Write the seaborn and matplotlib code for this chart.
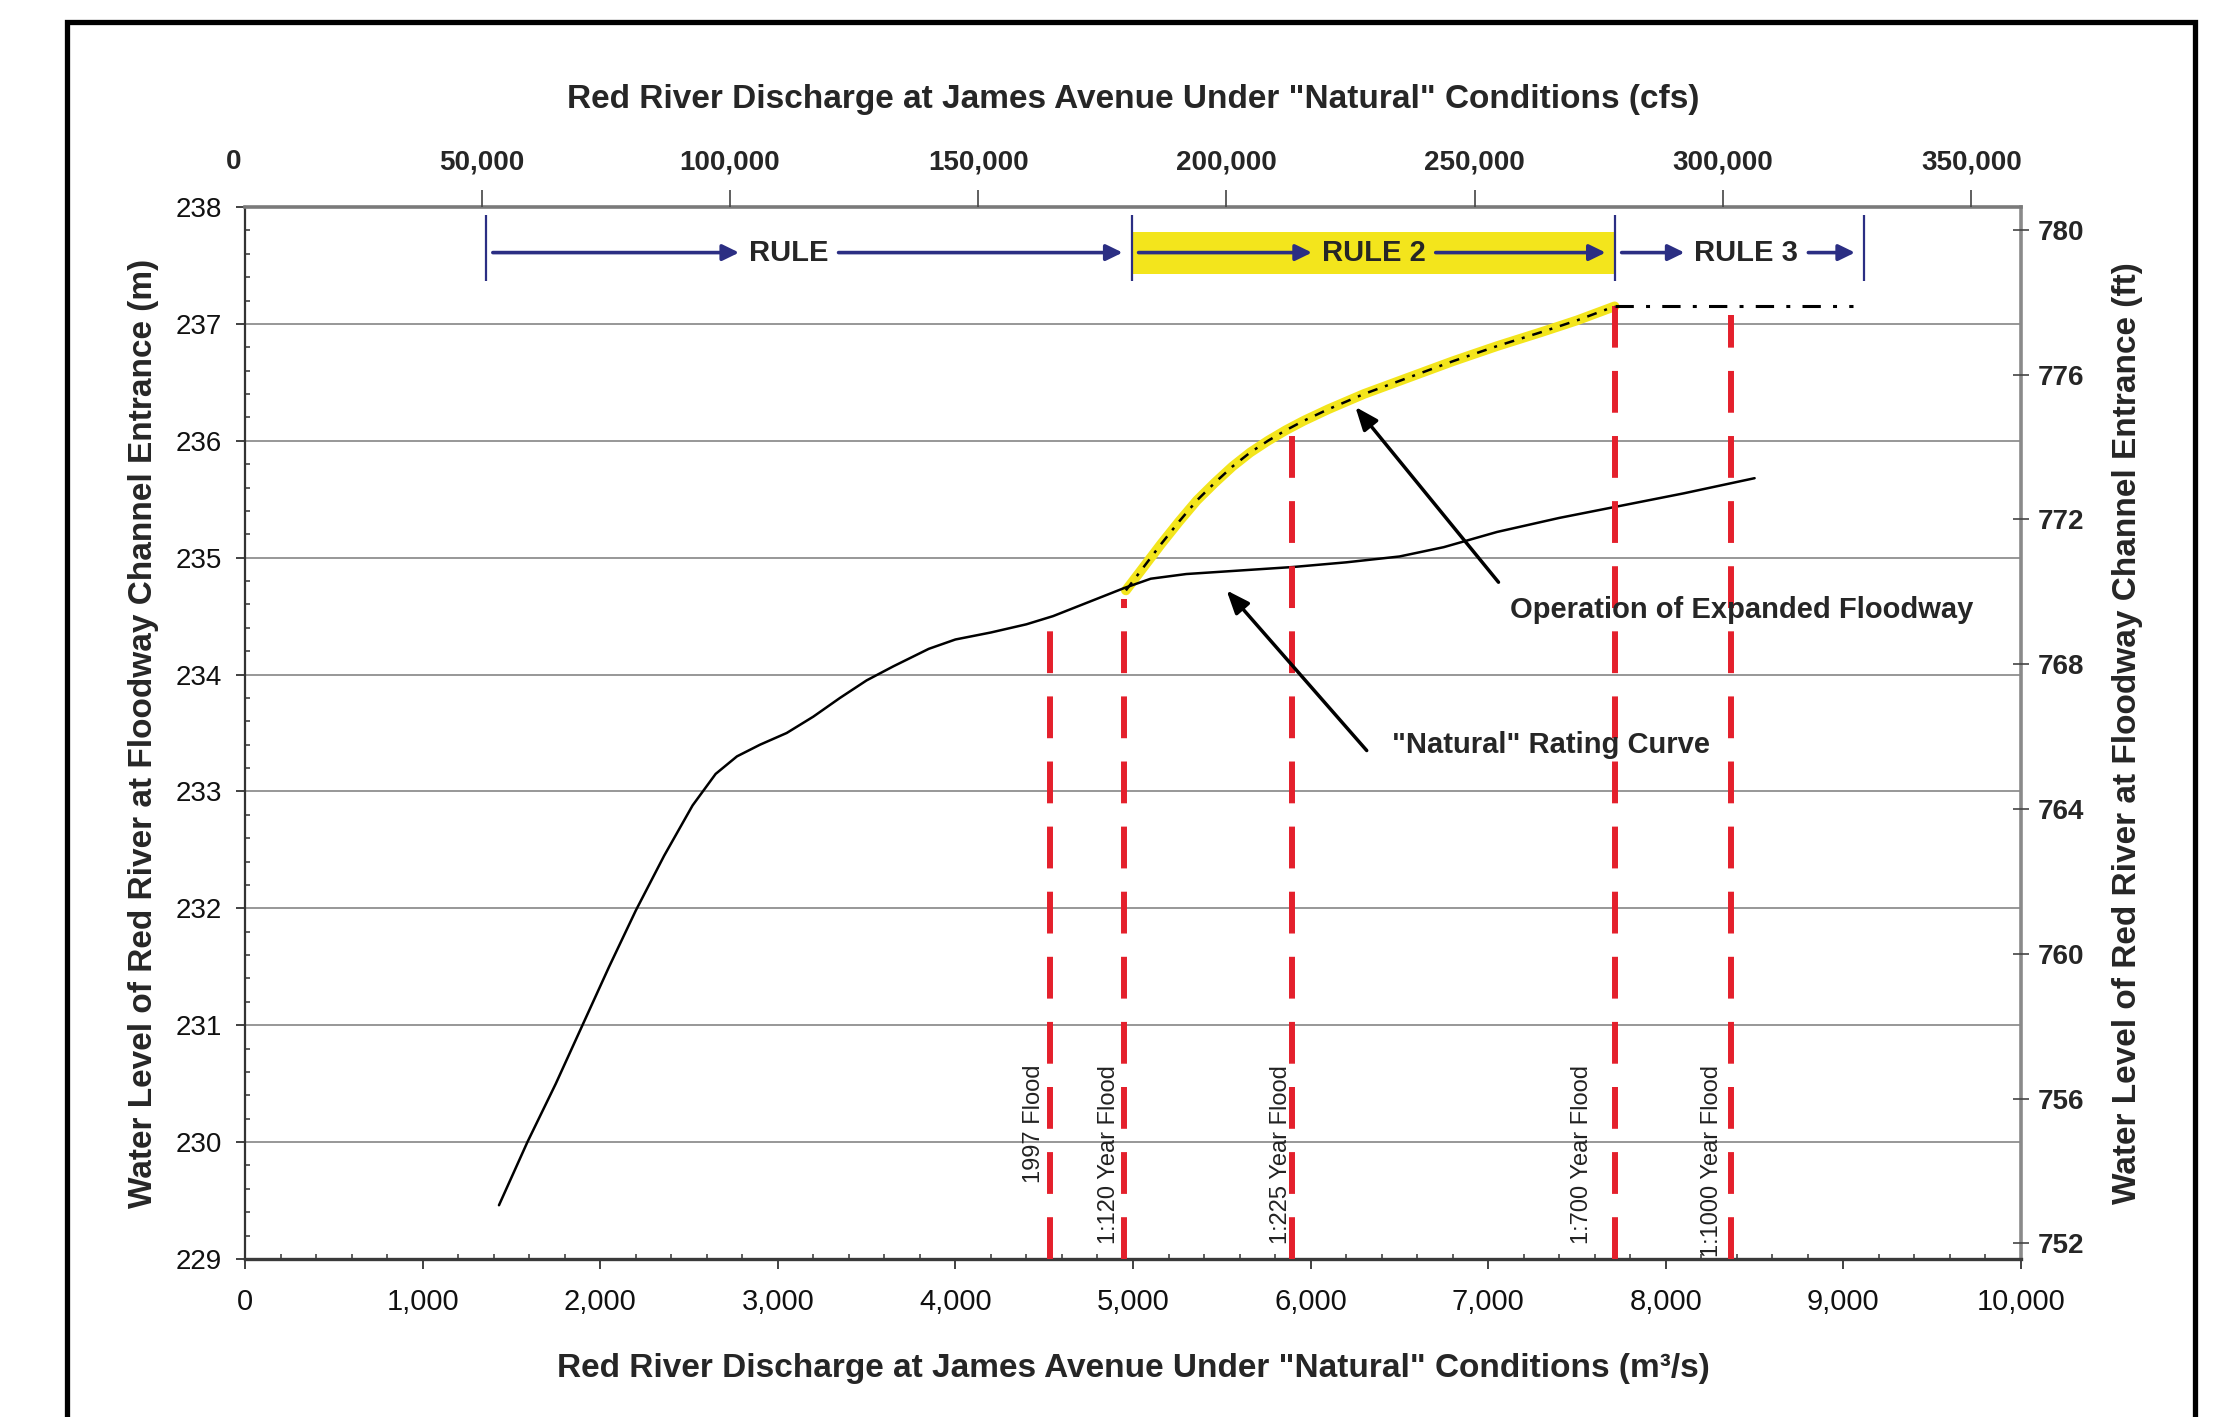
import numpy as np
import pandas as pd
import matplotlib
matplotlib.use("Agg")
import matplotlib.pyplot as plt
import seaborn as sns
from matplotlib.ticker import MultipleLocator, FuncFormatter
from matplotlib.lines import Line2D

# ---------------- data ----------------
natural_q = [1430, 1590, 1750, 1900, 2050, 2200, 2360, 2520, 2650, 2770, 2900, 3050, 3200,
             3350, 3500, 3650, 3850, 4000, 4200, 4400, 4550, 4750, 4950, 5100, 5300,
             5600, 5900, 6200, 6500, 6750, 7050, 7400, 7700, 8100, 8500]
natural_h = [229.46, 230.0, 230.5, 231.0, 231.5, 231.98, 232.45, 232.88, 233.15, 233.3,
             233.4, 233.5, 233.64, 233.8, 233.95, 234.07, 234.22, 234.3, 234.36, 234.43,
             234.5, 234.62, 234.74, 234.82, 234.86, 234.89, 234.92, 234.96, 235.01,
             235.09, 235.22, 235.34, 235.43, 235.55, 235.68]

expanded_q = [4960, 5060, 5160, 5260, 5360, 5460, 5560, 5660, 5760, 5860, 5960, 6100,
              6300, 6550, 6800, 7050, 7300, 7500, 7712]
expanded_h = [234.72, 234.92, 235.12, 235.31, 235.49, 235.64, 235.78, 235.9, 236.0,
              236.09, 236.17, 236.27, 236.4, 236.54, 236.68, 236.81, 236.93, 237.03, 237.15]

extension_q = [7712, 9052]
extension_h = [237.15, 237.15]

flood_names = ["1997 Flood", "1:120 Year Flood", "1:225 Year Flood",
               "1:700 Year Flood", "1:1000 Year Flood"]
flood_q = [4535, 4950, 5895, 7713, 8367]
flood_top = [234.5, 234.65, 236.12, 237.15, 237.08]

rule_names = ["RULE", "RULE 2", "RULE 3"]
rule_edges = [1356, 4992, 7712, 9116]
rule_label_q = [3062, 6356, 8454]
rule_level = 237.61

x_ticks = list(range(0, 10001, 1000))
y_ticks = list(range(229, 239))
ft_ticks = list(range(752, 781, 4))
cfs_ticks = list(range(0, 350001, 50000))

bottom_label = 'Red River Discharge at James Avenue Under "Natural" Conditions (m\u00b3/s)'
top_label = 'Red River Discharge at James Avenue Under "Natural" Conditions (cfs)'
left_label = "Water Level of Red River at Floodway Channel Entrance (m)"
right_label = "Water Level of Red River at Floodway Channel Entrance (ft)"
note_expanded = "Operation of Expanded Floodway"
note_natural = '"Natural" Rating Curve'

natural_df = pd.DataFrame({"q": natural_q, "h": natural_h})
expanded_df = pd.DataFrame({"q": expanded_q, "h": expanded_h})
extension_df = pd.DataFrame({"q": extension_q, "h": extension_h})

# ---------------- style ----------------
sns.set_style("white")
plt.rcParams["font.family"] = ["Liberation Sans", "DejaVu Sans"]

NAVY = "#2b2e83"
RED = "#e4202c"
YELLOW = "#f3e51c"

W, H = 2221, 1417
fig = plt.figure(figsize=(W / 100, H / 100), dpi=100)
ax = fig.add_axes([245 / W, 1 - 1259 / H, 1776 / W, 1052 / H])

ax.set_xlim(0, 10000)
ax.set_ylim(229, 238)

# gridlines
ax.set_yticks(y_ticks)
ax.yaxis.grid(True, color="#8f8f8f", lw=1.3)
ax.xaxis.grid(False)
ax.set_axisbelow(True)

# natural rating curve
sns.lineplot(data=natural_df, x="q", y="h", ax=ax, color="black", lw=1.8,
             sort=False, estimator=None, zorder=4)

# expanded floodway operation (yellow highlight + dash-dot)
sns.lineplot(data=expanded_df, x="q", y="h", ax=ax, color=YELLOW, lw=7,
             sort=False, estimator=None, solid_capstyle="round", zorder=3)
sns.lineplot(data=expanded_df, x="q", y="h", ax=ax, color="black", lw=1.8,
             sort=False, estimator=None, linestyle=(0, (4, 3.2, 1.2, 3.2)), zorder=5)
sns.lineplot(data=extension_df, x="q", y="h", ax=ax, color="black", lw=2.2,
             sort=False, estimator=None, linestyle=(0, (6, 4, 1.3, 4)), zorder=5)

# flood lines
label_dx = [-4, -3, 0, -16, -6]
for name, q, top, dx in zip(flood_names, flood_q, flood_top, label_dx):
    ax.plot([q, q], [229, top], color=RED, lw=4.3, linestyle=(0, (7, 3.9)),
            zorder=4, solid_capstyle="butt", dash_capstyle="butt")
    ax.annotate(name, xy=(q, 230.66), xytext=(dx, 0), textcoords="offset points",
                rotation=90, ha="right", va="top", fontsize=17, color="#222222",
                zorder=6)

# rule band
ax.fill_between([rule_edges[1], rule_edges[2]], 237.43, 237.79, color=YELLOW,
                lw=0, zorder=2)
ax.vlines(rule_edges, 237.37, 237.93, color=NAVY, lw=1.6, zorder=4)

# annotations with black arrows
arrow_kw = dict(arrowstyle="-|>,head_length=0.5,head_width=0.2", color="black",
                lw=2.5, mutation_scale=28, shrinkA=0, shrinkB=0)
ax.annotate("", xy=(6252, 236.29), xytext=(7058, 234.79), arrowprops=arrow_kw, zorder=6)
ax.annotate("", xy=(5527, 234.72), xytext=(6316, 233.35), arrowprops=arrow_kw, zorder=6)
ax.text(7122, 234.55, note_expanded, ha="left", va="center", fontsize=21,
        fontweight="bold", zorder=6)
ax.text(6460, 233.40, note_natural, ha="left", va="center", fontsize=21,
        fontweight="bold", zorder=6)

# axes ticks
ax.set_xticks(x_ticks)
ax.xaxis.set_major_formatter(FuncFormatter(lambda v, p: f"{int(v):,}"))
ax.xaxis.set_minor_locator(MultipleLocator(200))
ax.yaxis.set_minor_locator(MultipleLocator(0.2))
ax.tick_params(axis="x", which="major", direction="out", length=7, width=1.3,
               pad=14, labelsize=21, color="#333333", labelcolor="#111111")
ax.tick_params(axis="x", which="minor", direction="in", length=3.5, width=1.1,
               color="#333333")
ax.tick_params(axis="y", which="major", direction="out", length=6.5, width=1.3,
               pad=10, labelsize=20, color="#333333", labelcolor="#111111")
ax.tick_params(axis="y", which="minor", direction="in", length=3.5, width=1.1,
               color="#333333")
ax.tick_params(which="both", top=False, right=False, bottom=True, left=True)

for side, (c, lw) in {"left": ("#333333", 1.6), "bottom": ("#3a3a3a", 2.4),
                      "top": ("#7a7a7a", 2.6), "right": ("#8a8a8a", 2.6)}.items():
    ax.spines[side].set_visible(True)
    ax.spines[side].set_color(c)
    ax.spines[side].set_linewidth(lw)

ax.set_xlabel(bottom_label, fontsize=24, fontweight="bold")
ax.xaxis.set_label_coords(0.5, -0.112)
ax.xaxis.label.set_va("baseline")
ax.set_ylabel(left_label, fontsize=24, fontweight="bold")
ax.yaxis.set_label_coords(-0.0574, 0.5)
ax.yaxis.label.set_va("center")

# right axis in feet
ax_r = ax.twinx()
ax_r.set_ylim(751.57, 780.63)
ax_r.set_yticks(ft_ticks, labels=[str(v) for v in ft_ticks], fontsize=20,
                fontweight="bold")
ax_r.tick_params(axis="y", direction="inout", length=12, width=1.2, pad=6,
                 color="#444444")
ax_r.set_ylabel(right_label, fontsize=24, fontweight="bold", rotation=90)
ax_r.yaxis.set_label_coords(1.0602, 0.5)
ax_r.yaxis.label.set_va("center")
for s in ax_r.spines.values():
    s.set_visible(False)

# top axis in cfs
ax_t = ax.twiny()
ax_t.set_xlim(2370, 360010)
ax_t.set_xticks(cfs_ticks[1:], labels=[f"{v:,}" for v in cfs_ticks[1:]],
                fontsize=20, fontweight="bold")
ax_t.tick_params(axis="x", direction="out", length=12, width=1.2, pad=11,
                 color="#444444")
ax_t.annotate(f"{cfs_ticks[0]:,}", xy=(cfs_ticks[0], 1), xycoords=("data", "axes fraction"),
              xytext=(0, 23), textcoords="offset points", ha="center", va="bottom",
              fontsize=20, fontweight="bold", annotation_clip=False)
ax_t.set_xlabel(top_label, fontsize=24, fontweight="bold")
ax_t.xaxis.set_label_coords(0.5, 1.0944)
ax_t.xaxis.label.set_va("baseline")
for s in ax_t.spines.values():
    s.set_visible(False)

# rule arrows, spaced around the rule labels
fig.canvas.draw()
renderer = fig.canvas.get_renderer()
inv = ax.transData.inverted()
gap = 10  # pixels
rule_arrow = dict(arrowstyle="-|>,head_length=0.45,head_width=0.22", color=NAVY,
                  lw=2.6, mutation_scale=22, shrinkA=0, shrinkB=0)
for i, name in enumerate(rule_names):
    t = ax.text(rule_label_q[i], rule_level, name, ha="center", va="center",
                fontsize=21, fontweight="bold", zorder=6)
    bb = t.get_window_extent(renderer)
    tx0 = inv.transform((bb.x0 - gap, 0))[0]
    tx1 = inv.transform((bb.x1 + gap, 0))[0]
    lpx = ax.transData.transform((rule_edges[i], rule_level))[0]
    rpx = ax.transData.transform((rule_edges[i + 1], rule_level))[0]
    a0 = inv.transform((lpx + gap * 0.7, 0))[0]
    a1 = inv.transform((rpx - gap * 0.9, 0))[0]
    ax.annotate("", xy=(tx0, rule_level), xytext=(a0, rule_level),
                arrowprops=rule_arrow, zorder=5)
    ax.annotate("", xy=(a1, rule_level), xytext=(tx1, rule_level),
                arrowprops=rule_arrow, zorder=5)

# outer frame (open at the bottom, as in the reference)
fig.add_artist(Line2D([0.0300, 0.0300, 0.9883, 0.9883], [0, 0.9847, 0.9847, 0],
                      transform=fig.transFigure, color="black", lw=3.8,
                      solid_joinstyle="miter"))

fig.savefig("out.png", dpi=100, facecolor="white")
